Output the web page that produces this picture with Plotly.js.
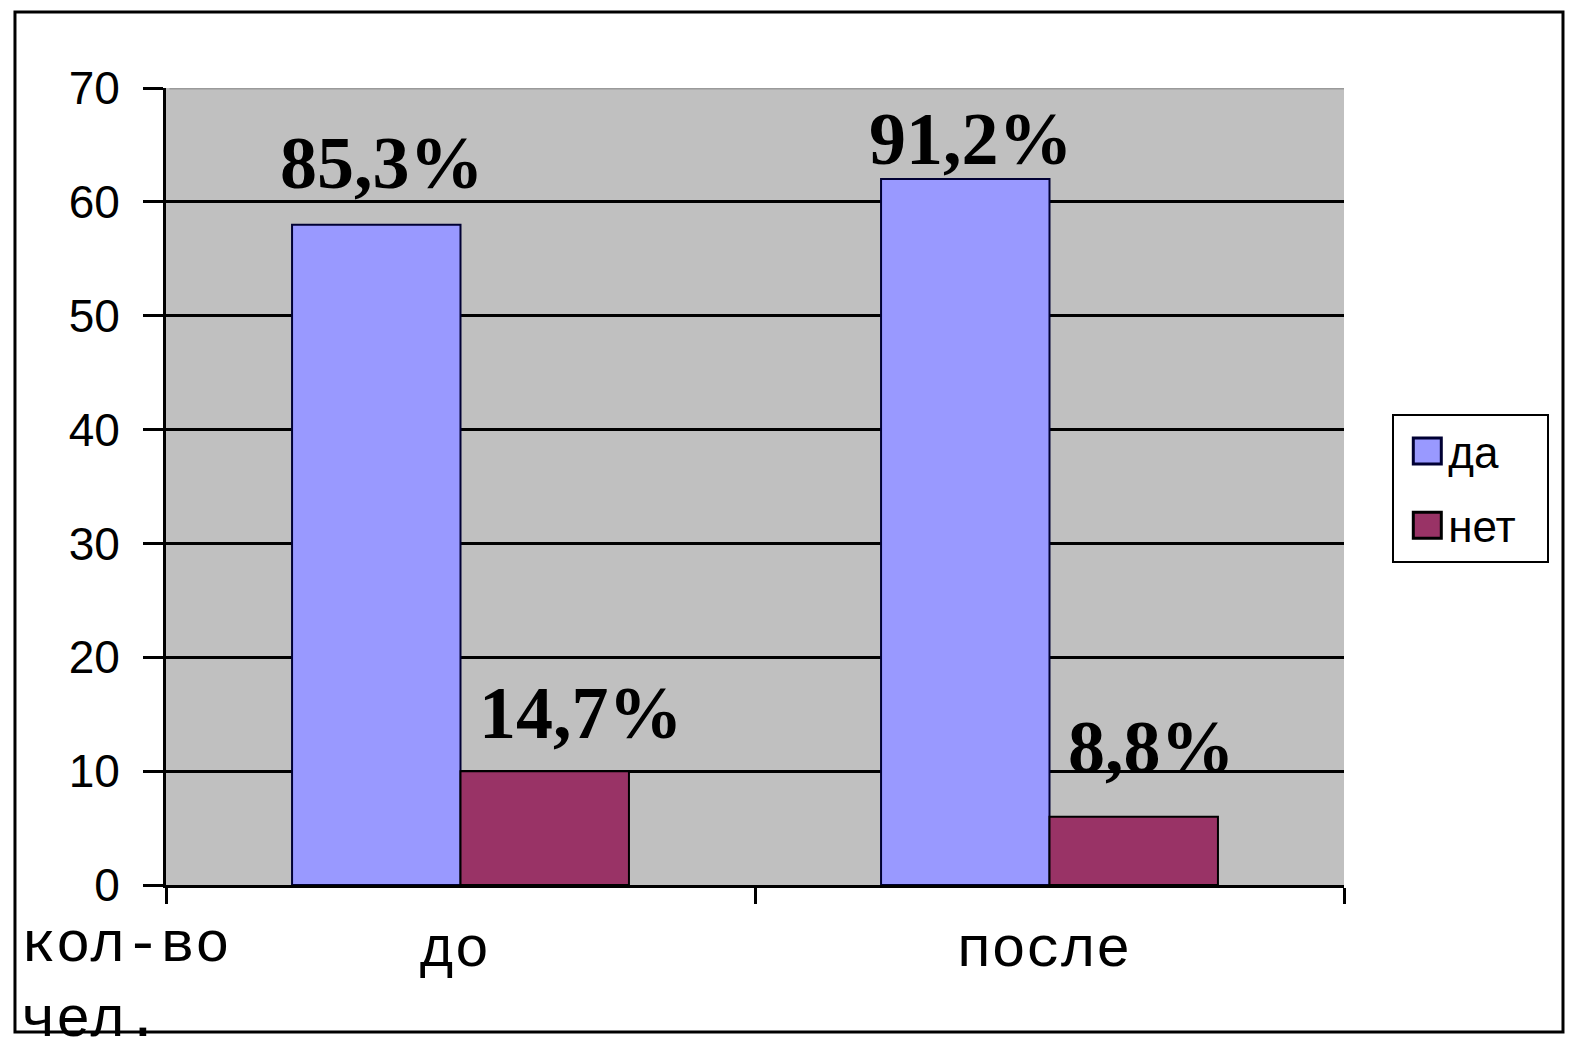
<!DOCTYPE html>
<html>
<head>
<meta charset="utf-8">
<script src="https://cdn.plot.ly/plotly-3.0.1.min.js"></script>
<style>
html,body{margin:0;padding:0;background:#fff;}
#chart{width:1576px;height:1052px;}
</style>
</head>
<body>
<div id="chart"></div>
<script>
// Data
const categories = ["до", "после"];
const seriesNames = ["да", "нет"];
const daValues = [58, 62];
const netValues = [10, 6];
const daLabels = ["85,3%", "91,2%"];
const netLabels = ["14,7%", "8,8%"];
const yTickVals = [0, 10, 20, 30, 40, 50, 60, 70];

const traces = [
  {
    type: "bar", name: seriesNames[0], x: categories, y: daValues, legendgroup: "g1",
    marker: {color: "#9999FF", line: {color: "#000033", width: 2}},
    hoverinfo: "x+y"
  },
  {
    type: "bar", name: seriesNames[1], x: categories, y: netValues, legendgroup: "g2",
    marker: {color: "#993366", line: {color: "#000000", width: 2}},
    hoverinfo: "x+y"
  }
];

const labelFont = {family: "Liberation Serif, Times New Roman, serif", size: 74, color: "#000", weight: "bold"};
const barHalf = 0.143;
const daShift = [{dx: 6, dy: 62}, {dx: 6, dy: 40}];
const netShift = [{dx: 36, dy: 58}, {dx: 18, dy: 70}];
const annotations = [];
categories.forEach((c, i) => {
  annotations.push({x: i - barHalf, y: daValues[i], xref: "x", yref: "y", text: daLabels[i],
    showarrow: false, font: labelFont, xshift: daShift[i].dx, yshift: daShift[i].dy, yanchor: "middle"});
  annotations.push({x: i + barHalf, y: netValues[i], xref: "x", yref: "y", text: netLabels[i],
    showarrow: false, font: labelFont, xshift: netShift[i].dx, yshift: netShift[i].dy, yanchor: "middle"});
});
const monoFont = {family: "Liberation Mono, Courier New, monospace", size: 58, color: "#000"};
annotations.push({xref: "paper", yref: "paper", x: -0.1250, y: -0.0753, xanchor: "left", yanchor: "middle",
  text: "кол-во", showarrow: false, font: monoFont});
annotations.push({xref: "paper", yref: "paper", x: -0.1250, y: -0.1694, xanchor: "left", yanchor: "middle",
  text: "чел.", showarrow: false, font: monoFont});

const layout = {
  width: 1576, height: 1052,
  margin: {l: 166, r: 232, t: 88, b: 167, pad: 0},
  paper_bgcolor: "#ffffff",
  plot_bgcolor: "#C0C0C0",
  barmode: "group",
  bargap: 0.428,
  bargroupgap: 0,
  showlegend: true,
  legend: {
    x: 1.041, y: 0.591, xanchor: "left", yanchor: "top",
    bgcolor: "#ffffff", bordercolor: "#000", borderwidth: 2,
    font: {family: "Liberation Sans, Arial, sans-serif", size: 44, color: "#000"},
    itemwidth: 30, tracegroupgap: 14
  },
  xaxis: {
    type: "category",
    showline: true, linecolor: "#000", linewidth: 3,
    ticks: "outside", ticklen: 16, tickwidth: 3, tickcolor: "#000",
    tickson: "boundaries",
    showgrid: false, zeroline: false,
    tickfont: monoFont,
    ticklabelstandoff: 8,
    ticklabelshift: -6
  },
  yaxis: {
    range: [0, 70],
    tickvals: yTickVals,
    showline: true, linecolor: "#000", linewidth: 3,
    ticks: "outside", ticklen: 20, tickwidth: 3, tickcolor: "#000",
    showgrid: true, gridcolor: "#000", gridwidth: 3,
    zeroline: false,
    tickfont: {family: "Liberation Sans, Arial, sans-serif", size: 46, color: "#000"},
    ticklabelstandoff: 14
  },
  annotations: annotations,
  shapes: [
    {type: "line", xref: "paper", yref: "y", x0: 0.003, x1: 1, y0: 70, y1: 70,
      line: {color: "#9a9a9a", width: 3}, layer: "above"},
    {type: "rect", xref: "paper", yref: "paper", x0: -0.1282, x1: 1.1859, y0: -0.1844, y1: 1.0954,
      line: {color: "#000", width: 3}, fillcolor: "rgba(0,0,0,0)", layer: "above"}
  ]
};

Plotly.newPlot("chart", traces, layout, {displayModeBar: false, staticPlot: true}).then(gd => {
  const extra = 40;
  // enlarge the legend swatches and move them/text right to match the reference
  gd.querySelectorAll(".legend .traces").forEach(tr => {
    tr.querySelectorAll(".legendpoints path").forEach(p => {
      p.setAttribute("d", "M27,13H-1V-13H27Z");
      p.style.strokeWidth = "3px";
    });
    const t = tr.querySelector("text.legendtext");
    if (t) {
      const cx = parseFloat(t.getAttribute("x") || "0");
      t.setAttribute("x", cx + 14);
    }
  });
  // widen the legend box so the longer entries fit
  gd.querySelectorAll(".legend rect.bg").forEach(r => {
    r.setAttribute("width", parseFloat(r.getAttribute("width")) + extra);
  });
  gd.querySelectorAll("clipPath").forEach(cp => {
    if ((cp.id || "").indexOf("legend") !== -1) {
      cp.querySelectorAll("rect").forEach(r => {
        r.setAttribute("width", parseFloat(r.getAttribute("width")) + extra);
      });
    }
  });
});
</script>
</body>
</html>
